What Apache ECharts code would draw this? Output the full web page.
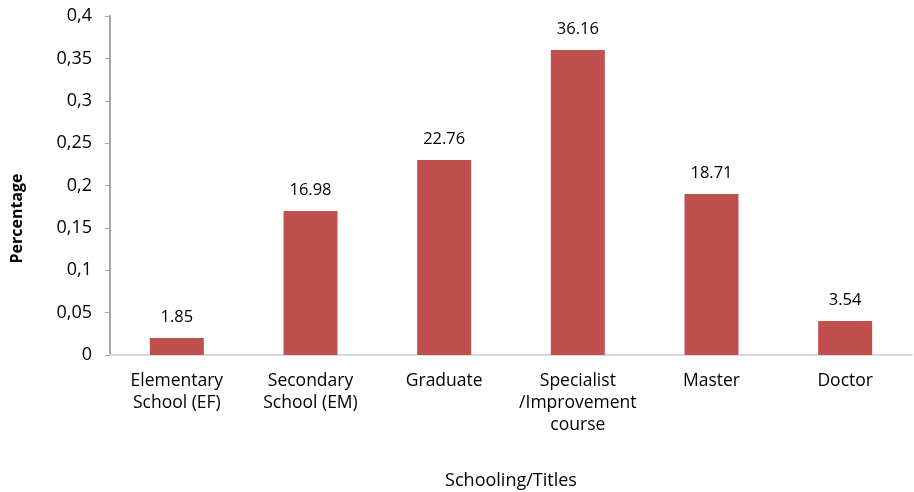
<!DOCTYPE html>
<html>
<head>
<meta charset="utf-8">
<script src="https://cdn.jsdelivr.net/npm/echarts@6/dist/echarts.min.js"></script>
<style>
  html, body { margin: 0; padding: 0; background: #fff; }
  #chart { width: 914px; height: 492px; }
</style>
</head>
<body>
<div id="chart"></div>
<script>
// categories on the x axis
const categories = [
  'Elementary\nSchool (EF)',
  'Secondary\nSchool (EM)',
  'Graduate',
  'Specialist\n/Improvement\ncourse',
  'Master',
  'Doctor'
]
// bar heights (share, as drawn)
const shares = [0.02, 0.17, 0.23, 0.36, 0.19, 0.04]
// text shown above each bar
const percentLabels = ['1.85', '16.98', '22.76', '36.16', '18.71', '3.54']

const font = '"Open Sans", sans-serif'
const myChart = echarts.init(document.getElementById('chart'))

const option = {
  animation: false,
  grid: { left: 110, right: 2, top: 16, bottom: 137, outerBoundsMode: 'none' },
  xAxis: {
    type: 'category',
    data: categories,
    name: 'Schooling/Titles',
    nameLocation: 'middle',
    nameGap: 117,
    nameTextStyle: { fontFamily: font, fontSize: 18, color: '#000' },
    axisLine: { lineStyle: { color: '#D9D9D9', width: 2 } },
    axisTick: { show: false },
    axisLabel: {
      interval: 0,
      margin: 15,
      fontFamily: font,
      fontSize: 17.5,
      lineHeight: 22,
      color: '#000'
    }
  },
  yAxis: {
    type: 'value',
    min: 0,
    max: 0.4,
    interval: 0.05,
    name: 'Percentage',
    nameLocation: 'middle',
    nameGap: 85,
    // shifted down a bit, like the original
    nameTextStyle: { fontFamily: font, fontSize: 16, fontWeight: 'bold', color: '#000', padding: [0, 66, 0, 0] },
    axisLine: { show: true, lineStyle: { color: '#A6A6A6', width: 2 } },
    axisTick: { show: true, length: 5, lineStyle: { color: '#A6A6A6' } },
    splitLine: { show: false },
    axisLabel: {
      margin: 18,
      fontFamily: font,
      fontSize: 18,
      color: '#000',
      formatter: (v) => String(Math.round(v * 100) / 100).replace('.', ',')
    }
  },
  series: [{
    type: 'bar',
    data: shares,
    barWidth: 54,
    itemStyle: { color: '#C0504D' },
    label: {
      show: true,
      position: 'top',
      distance: 12,
      fontFamily: font,
      fontSize: 16.5,
      color: '#000',
      formatter: (p) => percentLabels[p.dataIndex]
    }
  }]
}
myChart.setOption(option)
</script>
</body>
</html>
